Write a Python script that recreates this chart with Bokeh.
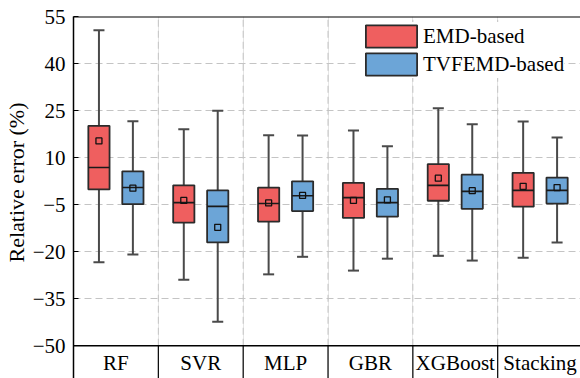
from bokeh.plotting import figure
from bokeh.models import (ColumnDataSource, FixedTicker, Range1d, Legend, LegendItem, Title)
from bokeh.core.properties import value
from bokeh.embed import file_html
from bokeh.resources import INLINE

categories = ["RF", "SVR", "MLP", "GBR", "XGBoost", "Stacking"]
series = ["EMD-based", "TVFEMD-based"]
colors = ["#EF5F5F", "#6CA5D7"]
y_ticks = [-50, -35, -20, -5, 10, 25, 40, 55]

# EMD-based statistics
emd_low = [-23.3, -28.9, -27.2, -26.0, -21.3, -21.9]
emd_q1 = [-0.1, -10.7, -10.4, -9.2, -3.7, -5.6]
emd_med = [6.9, -4.3, -4.6, -2.7, 1.2, -0.4]
emd_q3 = [20.2, 1.2, 0.5, 2.0, 8.0, 5.2]
emd_high = [50.7, 19.1, 17.2, 18.7, 25.8, 21.6]
emd_mean = [15.4, -3.6, -4.4, -3.6, 3.5, 0.9]

# TVFEMD-based statistics
tvf_low = [-20.9, -42.3, -21.6, -22.2, -22.8, -17.0]
tvf_q1 = [-4.8, -17.0, -7.0, -8.8, -6.3, -4.6]
tvf_med = [0.5, -5.5, -2.1, -4.3, -0.7, -0.4]
tvf_q3 = [5.7, -0.4, 2.5, 0.1, 4.6, 3.7]
tvf_high = [21.7, 25.0, 17.1, 13.7, 20.7, 16.5]
tvf_mean = [0.3, -12.2, -2.0, -3.4, -0.5, 0.5]

FONT = "Liberation Serif"
GRID = "#c4c4c4"
n = len(categories)
x_range = Range1d(0, 5.976)
y_lo, y_hi = -60.44, 55.1

p = figure(width=580, height=378, output_backend="svg", toolbar_location=None,
           x_range=x_range, y_range=Range1d(y_lo, y_hi),
           x_axis_location=None, min_border_left=72, min_border_right=0,
           min_border_top=16, min_border_bottom=0)
p.outline_line_color = None

yax = p.yaxis[0]
yax.ticker = FixedTicker(ticks=y_ticks)
yax.major_label_text_font = FONT
yax.major_label_text_font_size = "21px"
yax.major_label_text_color = "black"
yax.major_tick_in = 5
yax.major_tick_out = 0
yax.minor_tick_line_color = None
yax.major_label_standoff = 8
yax.axis_line_width = 1.5
yax.axis_line_color = "black"
yax.major_tick_line_color = "black"

p.add_layout(Title(text="Relative error (%)", align="left", offset=116, standoff=2,
                   text_font=FONT, text_font_size="22px", text_font_style="normal",
                   text_color="black"), "left")

p.ygrid.ticker = FixedTicker(ticks=y_ticks[1:-1])
p.ygrid.grid_line_color = GRID
p.ygrid.grid_line_dash = "7 4"
p.ygrid.grid_line_width = 1

bounds = list(range(1, n))
x_end = x_range.end
p.segment(x0=bounds, x1=bounds, y0=[-50] * len(bounds), y1=[55] * len(bounds),
          line_color=GRID, line_dash="7 4", line_width=1)
p.segment(x0=bounds, x1=bounds, y0=[y_lo] * len(bounds), y1=[-50] * len(bounds),
          line_color="black", line_width=1.2)
p.segment(x0=[0, 0], x1=[x_end, x_end], y0=[-50, 55], y1=[-50, 55],
          line_color="black", line_width=1.5)

p.text(x=[i + 0.5 for i in range(n)], y=[-55.4] * n, text=categories,
       text_font=value(FONT), text_font_size="21px", text_align="center",
       text_baseline="middle", text_color="black")

stats = [
    (emd_low, emd_q1, emd_med, emd_q3, emd_high, emd_mean),
    (tvf_low, tvf_q1, tvf_med, tvf_q3, tvf_high, tvf_mean),
]
offsets = [-0.2, 0.2]
box_w = 0.25
cap_w = 0.13
legend_items = []
for (low, q1, med, q3, high, mean), off, col, name in zip(stats, offsets, colors, series):
    xs = [i + 0.5 + off for i in range(n)]
    src = ColumnDataSource(dict(x=xs, low=low, q1=q1, med=med, q3=q3, high=high, mean=mean,
                                cl=[x - cap_w / 2 for x in xs], cr=[x + cap_w / 2 for x in xs],
                                bl=[x - box_w / 2 for x in xs], br=[x + box_w / 2 for x in xs]))
    p.segment(x0="x", x1="x", y0="low", y1="q1", source=src, line_color="#4a4a4a", line_width=2)
    p.segment(x0="x", x1="x", y0="q3", y1="high", source=src, line_color="#4a4a4a", line_width=2)
    p.segment(x0="cl", x1="cr", y0="low", y1="low", source=src, line_color="#4a4a4a", line_width=2)
    p.segment(x0="cl", x1="cr", y0="high", y1="high", source=src, line_color="#4a4a4a", line_width=2)
    r = p.vbar(x="x", width=box_w, bottom="q1", top="q3", source=src, fill_color=col,
               line_color="#2b2b2b", line_width=1.8)
    p.segment(x0="bl", x1="br", y0="med", y1="med", source=src, line_color="#1a1a1a", line_width=1.6)
    p.scatter(x="x", y="mean", source=src, marker="square", size=6, fill_color=None,
              line_color="#111111", line_width=1.3)
    legend_items.append(LegendItem(label=name, renderers=[r]))

# legend location is measured from the frame's bottom-left corner (frame bottom at 378)
legend = Legend(items=legend_items, location=(286, 300), glyph_width=64, glyph_height=28,
                label_height=28, spacing=0, padding=0, margin=0, label_standoff=0,
                label_text_font=FONT, label_text_font_size="21px", label_text_color="black",
                border_line_color=None, background_fill_color="white", background_fill_alpha=1.0)
p.add_layout(legend)

open("out.html", "w").write(file_html(p, INLINE))
